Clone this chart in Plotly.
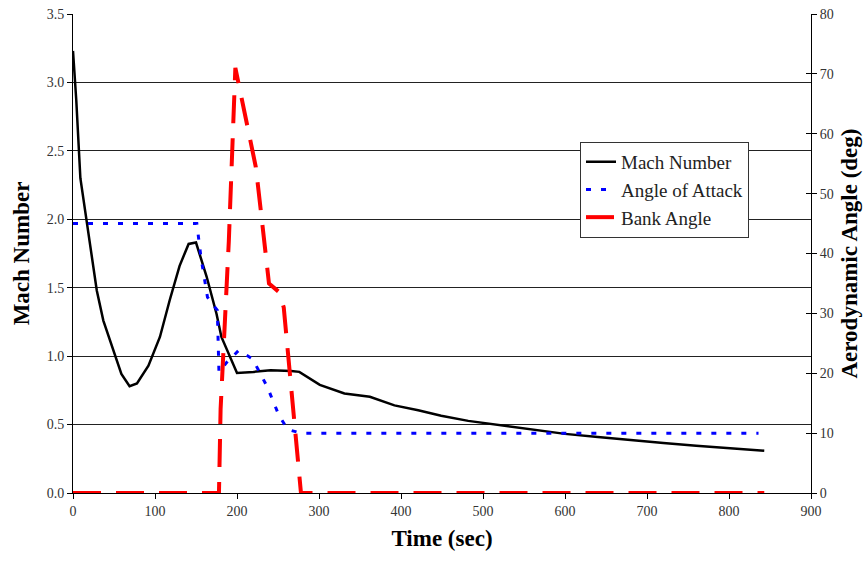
import plotly.graph_objects as go

# Mach number (left axis)
mach_t = [0, 4, 9, 17, 29, 37, 49, 59, 69, 78, 92, 106, 118, 130, 141, 150, 163, 175, 181, 200,
          220, 241, 266, 276, 301, 331, 362, 392, 421, 449, 482, 519, 560, 600, 640, 678, 720, 760, 800, 843]
mach = [3.23, 2.87, 2.3, 1.97, 1.48, 1.26, 1.04, 0.87, 0.78, 0.8, 0.93, 1.14, 1.41, 1.66, 1.82, 1.83, 1.58, 1.31, 1.14, 0.877,
        0.885, 0.897, 0.892, 0.885, 0.79, 0.727, 0.703, 0.64, 0.605, 0.565, 0.527, 0.496, 0.46, 0.432, 0.41, 0.387, 0.365, 0.345, 0.327, 0.309]

# Angle of attack (right axis, deg)
aoa_t = [0, 151, 156, 164, 176, 178, 188, 202, 219, 237, 251, 262, 278, 836]
aoa = [45, 45, 39.4, 32.7, 30.5, 20.2, 21.9, 23.8, 22.4, 17.7, 13, 10.6, 10, 10]

# Bank angle (right axis, deg)
bank_t = [0, 178, 180, 190, 198, 202, 213, 223, 229, 235, 239, 251, 257, 278, 843]
bank = [0, 0, 14, 42, 71, 68.3, 61.3, 54.4, 47.2, 40.5, 35, 33.6, 31, 0, 0]

x_ticks = list(range(0, 901, 100))
serif = "Liberation Serif, Times New Roman, serif"

fig = go.Figure()
fig.add_trace(go.Scatter(x=mach_t, y=mach, mode="lines", name="Mach Number",
                         line=dict(color="black", width=2.5), yaxis="y"))
fig.add_trace(go.Scatter(x=aoa_t, y=aoa, mode="lines", name="Angle of Attack",
                         line=dict(color="#0000FF", width=3, dash="5px,10px"), yaxis="y2"))
fig.add_trace(go.Scatter(x=bank_t, y=bank, mode="lines", name="Bank Angle",
                         line=dict(color="#FF0000", width=4, dash="28px,15px"), yaxis="y2"))
fig.add_trace(go.Scatter(x=[None], y=[None], yaxis="y3", showlegend=False, hoverinfo="skip"))

tickfont = dict(family=serif, size=14, color="#333")
titlefont = dict(family=serif, size=23, color="black")

fig.update_layout(
    width=865, height=565,
    font=dict(family=serif, size=14, color="#333"),
    margin=dict(l=73, r=54, t=14, b=72),
    paper_bgcolor="white", plot_bgcolor="white",
    showlegend=True,
    legend=dict(x=0.687, y=0.733, xanchor="left", yanchor="top",
                bgcolor="white", bordercolor="#333", borderwidth=1,
                font=dict(family=serif, size=19, color="#222"),
                tracegroupgap=0),
    xaxis=dict(range=[0, 900], tickvals=x_ticks, ticks="outside", ticklen=5,
               tickcolor="black", showline=True, linecolor="black", linewidth=1,
               showgrid=False, zeroline=False, tickfont=tickfont, automargin=False,
               title=dict(text="<b>Time (sec)</b>", font=titlefont, standoff=12)),
    yaxis=dict(range=[0, 3.5], dtick=0.5, tickformat=".1f", ticks="outside", ticklen=5,
               tickcolor="black", showline=True, linecolor="black", linewidth=1,
               showgrid=True, gridcolor="#222", gridwidth=1, zeroline=False,
               tickfont=tickfont, automargin=False,
               title=dict(text="<b>Mach Number</b>", font=titlefont, standoff=10)),
    yaxis2=dict(range=[0, 80], dtick=10, overlaying="y", side="right", ticks="outside",
                ticklen=5, tickcolor="black", showline=True, linecolor="black", linewidth=1,
                showgrid=False, zeroline=False, tickfont=tickfont, automargin=False,
                title=dict(text="<b>Aerodynamic Angle (deg)</b>", font=titlefont, standoff=8)),
    yaxis3=dict(range=[0, 80], dtick=10, overlaying="y", side="right", ticks="inside",
                ticklen=5, tickcolor="black", showticklabels=False, showline=False,
                showgrid=False, zeroline=False, automargin=False),
)

fig.write_html("out.html")
